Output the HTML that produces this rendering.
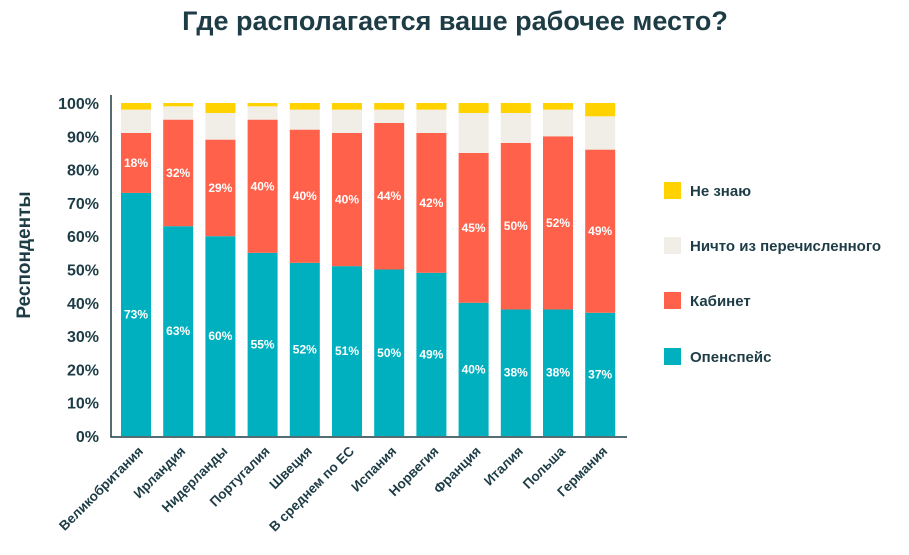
<!DOCTYPE html>
<html><head><meta charset="utf-8"><style>
body{margin:0;background:#fff;font-family:"Liberation Sans","Noto Sans CJK SC",sans-serif;}
svg text{font-family:"Liberation Sans","Noto Sans CJK SC",sans-serif;}
</style></head><body>
<svg id="c" width="909" height="550">
<text x="455" y="30" text-anchor="middle" font-size="27" font-weight="bold" fill="#1d3c45">Где располагается ваше рабочее место?</text>
<text transform="translate(30,255) rotate(-90)" text-anchor="middle" font-size="19" font-weight="bold" fill="#1d3c45">Респонденты</text>
<g id="plot"></g>
</svg>
<script>
const categories=["Великобритания","Ирландия","Нидерланды","Португалия","Швеция","В среднем по ЕС","Испания","Норвегия","Франция","Италия","Польша","Германия"];
const openspace=[73,63,60,55,52,51,50,49,40,38,38,37];
const cabinet=[18,32,29,40,40,40,44,42,45,50,52,49];
const dontKnow=[2,1,3,1,2,2,2,2,3,3,2,4];
const ticks=[0,10,20,30,40,50,60,70,80,90,100];
const seriesNames=["Не знаю","Ничто из перечисленного","Кабинет","Опенспейс"];
const colors={open:"#00b0bf",cab:"#ff614a",none:"#f1ede7",dk:"#ffd200"};
const NS="http://www.w3.org/2000/svg";
const g=document.getElementById('plot');
const y0=436,y100=103;
const y=v=>y0-(y0-y100)*v/100;
const x=i=>121+i*42.2;
const bw=30;
function el(t,a,p){const e=document.createElementNS(NS,t);for(const k in a)e.setAttribute(k,a[k]);(p||g).appendChild(e);return e;}
ticks.forEach(t=>{const e=el('text',{x:99,y:y(t)+6,'text-anchor':'end','font-size':16,'font-weight':'bold',fill:'#1d3c45'});e.textContent=t+'%';

});
categories.forEach((c,i)=>{
  const o=openspace[i],cb=cabinet[i],dk=dontKnow[i],nn=100-o-cb-dk;
  const segs=[[0,o,colors.open,'bar-openspace'],[o,cb,colors.cab,'bar-cabinet'],[o+cb,nn,colors.none,'bar-nothing'],[o+cb+nn,dk,colors.dk,'bar-dont-know']];
  segs.forEach(s=>{const r=el('rect',{x:x(i),y:y(s[0]+s[1]),width:bw,height:y(s[0])-y(s[0]+s[1]),fill:s[2]});
    
    });
  const t1=el('text',{x:x(i)+bw/2,y:y(o/2)+4,'text-anchor':'middle','font-size':12,'font-weight':'bold',fill:'#fff'});t1.textContent=o+'%';
  
  
  const t2=el('text',{x:x(i)+bw/2,y:y(o+cb/2)+4,'text-anchor':'middle','font-size':12,'font-weight':'bold',fill:'#fff'});t2.textContent=cb+'%';
  
  
  const cx=x(i)+bw/2+8,cy=452;
  const lt=el('text',{transform:`translate(${cx},${cy}) rotate(-45)`,'text-anchor':'end','font-size':13.5,'font-weight':'bold',fill:'#1d3c45'});lt.textContent=c;
  
  
});
const ax=el('path',{d:`M111 ${y100-8} V437 H627`,stroke:'#1d3c45','stroke-width':1.5,fill:'none'});


const lc=[colors.dk,colors.none,colors.cab,colors.open];
const ly=[190,245,300,356];
seriesNames.forEach((n,i)=>{
  const r=el('rect',{x:664,y:ly[i]-8,width:17,height:17,fill:lc[i]});
  
  
  const t=el('text',{x:690,y:ly[i]+6,'font-size':15,'font-weight':'bold',fill:'#1d3c45'});t.textContent=n;
  
  
});
</script>
</body></html>
